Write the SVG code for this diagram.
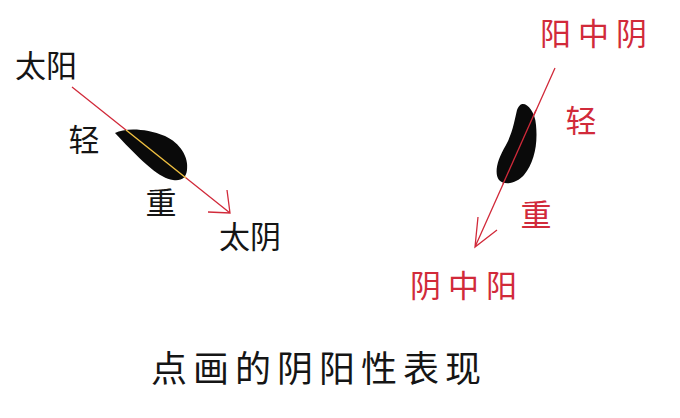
<svg xmlns="http://www.w3.org/2000/svg" width="680" height="418" viewBox="0 0 680 418">
<style>
text{font-family:"Noto Sans CJK SC","Noto Sans CJK JP",sans-serif;text-anchor:middle}
.k{fill:#151515;font-size:31px}
.r{fill:#d12a3a;font-size:31px;letter-spacing:7px}
.rs{fill:#d12a3a;font-size:31px}
.line{stroke:#d12a3a;stroke-width:1.3;fill:none}
.t{fill:#151515;font-size:36px;letter-spacing:6px}
</style>
<rect width="680" height="418" fill="#fff"/>
<g id="connectors">
<path class="line" d="M72,87 L230,213 M227,190 L230,213 L208,212"/>
<path class="line" d="M555,68 L475,247 M478,217 L475,247 L497,230"/>
</g>
<g id="left-stroke">
<path d="M115,133 C125,128 145,128 165,136 C180,143 189,157 187,170 C186,178 182,181 173,180 C160,178 145,165 115,133 Z" fill="#0a0a0a"/>
<line x1="126" y1="130" x2="186" y2="178" stroke="#f0c040" stroke-width="1.5"/>
</g>
<g id="right-stroke">
<path d="M523,104 C528,104 535,112 536,125 C538,145 534,163 524,175 C517,183 505,186 499,180 C494,173 497,160 506,145 C513,132 515,118 517,110 C519,105 521,104 523,104 Z" fill="#0a0a0a"/>
<line class="line" x1="536" y1="110" x2="503" y2="184"/>
</g>
<g id="left-labels">
<text class="k" x="46" y="77">太阳</text>
<text class="k" x="84" y="151">轻</text>
<text class="k" x="161" y="214">重</text>
<text class="k" x="250" y="248">太阴</text>
</g>
<g id="right-labels">
<text class="r" x="597" y="45">阳中阴</text>
<text class="rs" x="581" y="132">轻</text>
<text class="rs" x="536" y="226">重</text>
<text class="r" x="467" y="297">阴中阳</text>
</g>
<g id="title">
<text class="t" x="319" y="382">点画的阴阳性表现</text>
</g>
</svg>
